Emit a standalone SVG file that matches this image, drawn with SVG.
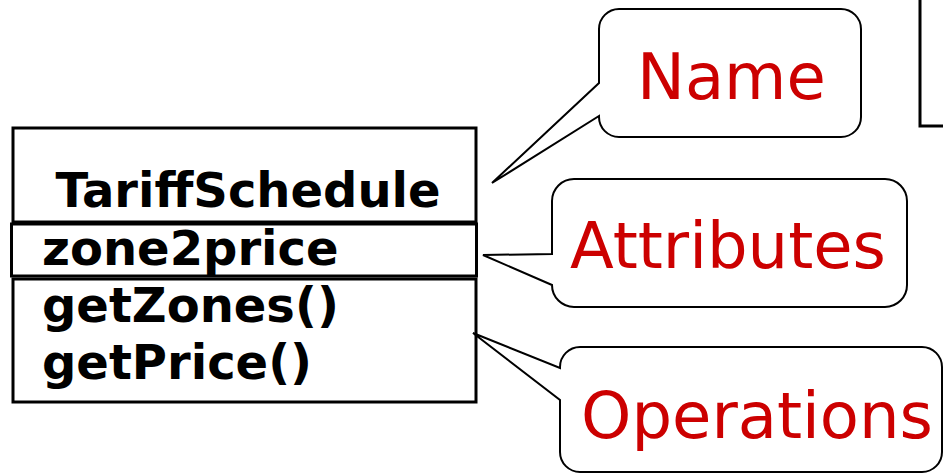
<svg xmlns="http://www.w3.org/2000/svg" width="943" height="473" viewBox="0 0 943 473">
<style>
.cls{fill:#fff;stroke:#000;stroke-width:3}
.ct{font-family:"DejaVu Sans","Liberation Sans",sans-serif;font-weight:bold;font-size:48px;fill:#000}
.call{fill:#fff;stroke:#000;stroke-width:2;stroke-linejoin:miter}
.lt{font-family:"DejaVu Sans","Liberation Sans",sans-serif;font-size:64px;fill:#CC0000}
</style>
<rect width="943" height="473" fill="#fff"/>
<g id="rightbox"><rect class="cls" x="920" y="-10" width="40" height="136" stroke-width="3.5"/></g>
<g id="class-TariffSchedule">
<rect class="cls" x="13" y="128" width="463" height="94"/>
<rect class="cls" x="11.5" y="224" width="465" height="52"/>
<rect class="cls" x="13" y="279" width="463" height="123"/>
<text class="ct" x="248" y="207" text-anchor="middle">TariffSchedule</text>
<text class="ct" x="42" y="265">zone2price</text>
<text class="ct" x="42" y="322">getZones()</text>
<text class="ct" x="42" y="379">getPrice()</text>
</g>
<g id="connectors">
<path id="callout-name" class="call" d="M619,9 H841 A20,20 0 0 1 861,29 V117 A20,20 0 0 1 841,137 H619 A20,20 0 0 1 599,117 V116 L492,183 L599,83 V29 A20,20 0 0 1 619,9 Z"/>
<path id="callout-attributes" class="call" d="M574,179 H885 A22,22 0 0 1 907,201 V285 A22,22 0 0 1 885,307 H574 A22,22 0 0 1 552,285 L483,255 L552,254 V201 A22,22 0 0 1 574,179 Z"/>
<path id="callout-operations" class="call" d="M580,347 H922 A20,20 0 0 1 942,367 V452 A20,20 0 0 1 922,472 H580 A20,20 0 0 1 560,452 V400 L473,333 L560,368 V367 A20,20 0 0 1 580,347 Z"/>
</g>
<g id="label-name"><text class="lt" x="637" y="99">Name</text></g>
<g id="label-attributes"><text class="lt" x="570" y="268">Attributes</text></g>
<g id="label-operations"><text class="lt" x="581" y="438">Operations</text></g>
</svg>
